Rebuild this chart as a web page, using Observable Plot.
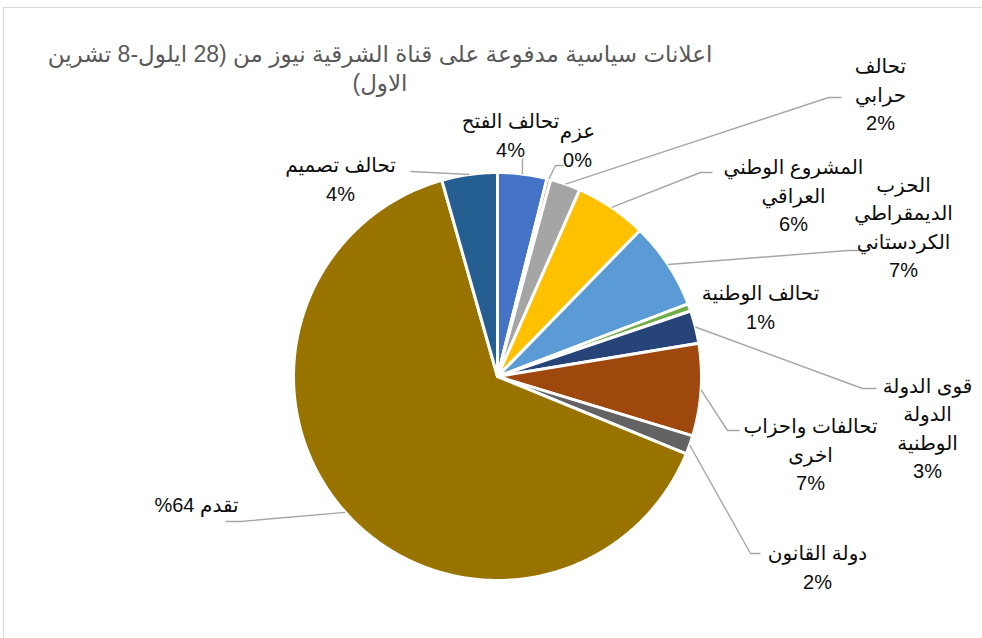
<!DOCTYPE html>
<html><head><meta charset="utf-8">
<script src="https://cdn.jsdelivr.net/npm/d3@7"></script>
<script src="https://cdn.jsdelivr.net/npm/@observablehq/plot@0.6"></script>
<style>
body{margin:0;background:#fff;}
#wrap{position:relative;width:982px;height:638px;overflow:hidden;background:#fff;}
#frame{position:absolute;left:3px;top:7px;width:1000px;height:700px;border:1px solid #d9d9d9;}
#title{position:absolute;left:10px;width:740px;top:40px;text-align:center;direction:rtl;white-space:nowrap;
  font:23px "Liberation Sans","DejaVu Sans",sans-serif;color:#595959;line-height:29px;}
#chart{position:absolute;left:0;top:0;}
</style>
</head><body>
<div id="wrap"><div id="frame"></div><div id="chart"></div><div id="title"></div></div>
<script>
// ---- data ----
const titleLines = ["اعلانات سياسية مدفوعة على قناة الشرقية نيوز من (28 ايلول-8 تشرين", "الاول)"];
const categories = ["تحالف الفتح","عزم","تحالف حرابي","المشروع الوطني العراقي","الحزب الديمقراطي الكردستاني","تحالف الوطنية","قوى الدولة الوطنية","تحالفات واحزاب اخرى","دولة القانون","تقدم","تحالف تصميم"];
const values = [3.9, 0.3, 2.4, 5.7, 6.9, 0.6, 2.6, 7.3, 1.5, 64.4, 4.4];
const percentLabels = ["4%","0%","2%","6%","7%","1%","3%","7%","2%","64%","4%"];
const labelLines = [
  ["تحالف الفتح"],
  ["عزم"],
  ["تحالف","حرابي"],
  ["المشروع الوطني","العراقي"],
  ["الحزب","الديمقراطي","الكردستاني"],
  ["تحالف الوطنية"],
  ["قوى الدولة","الدولة","الوطنية"],
  ["تحالفات واحزاب","اخرى"],
  ["دولة القانون"],
  ["تقدم"],
  ["تحالف تصميم"]
];
const colors = ["#4472C4","#ED7D31","#A5A5A5","#FFC000","#5B9BD5","#70AD47","#264478","#9E480E","#636363","#997300","#255E91"];

// ---- layout (pixels) ----
const W = 982, H = 638, CX = 497, CY = 376, R = 204;
const labelPos = [[510,133],[577,143],[880,92],[793,193],[903,225],[760,305],[927,426],[810,452],[817,565],[196,502],[340,177]];
const leaderElbows = [[[522,158]],[[555,165],[563,165]],[[828,97],[841,97]],[[700,172],[712,172]],[[848,250],[862,250]],[],[[862,388],[876,388]],[[727,430],[739,430]],[[750,553],[760,553]],[[240,521],[225,521]],[[410,171]]];
const inlinePct = [false,false,false,false,false,false,false,false,false,true,false];

const toX = px => (px - CX) / R, toY = py => (CY - py) / R;

document.getElementById("title").innerHTML = titleLines.join("<br>");

const arcs = d3.pie().sort(null).value(d => d)(values);
const slicePts = [];
arcs.forEach((a, i) => {
  slicePts.push({k: i, x: 0, y: 0, c: colors[i]});
  const n = Math.max(2, Math.ceil((a.endAngle - a.startAngle) / 0.01));
  for (let j = 0; j <= n; j++) {
    const t = a.startAngle + (a.endAngle - a.startAngle) * j / n;
    slicePts.push({k: i, x: Math.sin(t), y: Math.cos(t), c: colors[i]});
  }
  slicePts.push({k: i, x: 0, y: 0, c: colors[i]});
});

const leaderPts = [];
arcs.forEach((a, i) => {
  if (!leaderElbows[i].length) return;
  const m = (a.startAngle + a.endAngle) / 2;
  leaderPts.push({k: i, x: Math.sin(m), y: Math.cos(m)});
  leaderElbows[i].forEach(([px, py]) => leaderPts.push({k: i, x: toX(px), y: toY(py)}));
});

const labels = categories.map((c, i) => ({
  x: toX(labelPos[i][0]), y: toY(labelPos[i][1]),
  text: inlinePct[i] ? labelLines[i].join(" ") + " " + percentLabels[i] : labelLines[i].concat([percentLabels[i]]).join("\n")
}));

const chart = Plot.plot({
  width: W, height: H, margin: 0,
  x: {domain: [toX(0), toX(W)], axis: null},
  y: {domain: [toY(H), toY(0)], axis: null},
  color: {type: "identity"},
  style: {fontFamily: "'Liberation Sans','DejaVu Sans',sans-serif", direction: "rtl", background: "transparent"},
  marks: [
    Plot.line(slicePts, {x: "x", y: "y", z: "k", fill: "c", stroke: "white", strokeWidth: 3, strokeLinejoin: "round"}),
    Plot.line(leaderPts, {x: "x", y: "y", z: "k", stroke: "#a6a6a6", strokeWidth: 1.4, strokeLinejoin: "miter", strokeLinecap: "butt"}),
    Plot.text(labels, {x: "x", y: "y", text: "text", fontSize: 20, lineHeight: 1.42, fill: "#0d0d0d", textAnchor: "middle"})
  ]
});
document.getElementById("chart").appendChild(chart);
</script>
</body></html>
